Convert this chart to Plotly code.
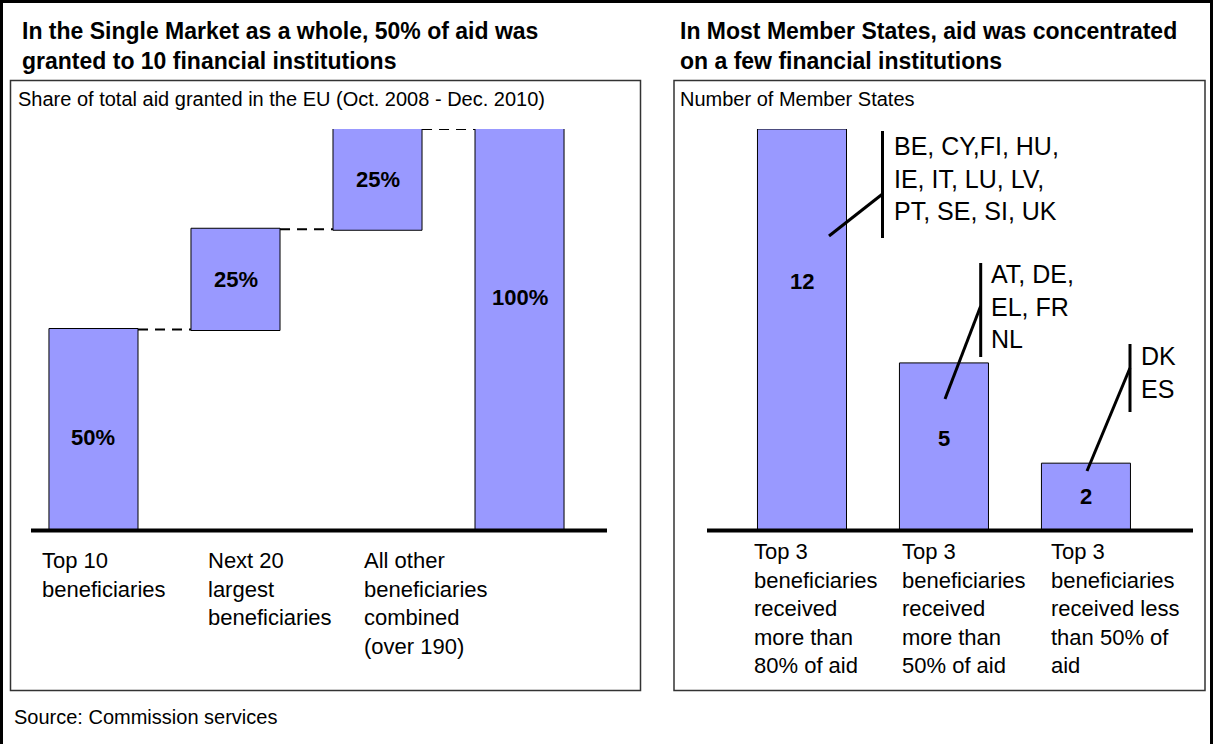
import plotly.graph_objects as go

W, H = 1214, 744
FONT = "Arial, Liberation Sans, sans-serif"
BAR_COLOR = "#9999FF"

# ---------------- data ----------------
left_title = "In the Single Market as a whole, 50% of aid was<br>granted to 10 financial institutions"
left_subtitle = "Share of total aid granted in the EU (Oct. 2008 - Dec. 2010)"
left_categories = ["Top 10<br>beneficiaries",
                   "Next 20<br>largest<br>beneficiaries",
                   "All other<br>beneficiaries<br>combined<br>(over 190)",
                   ""]
left_values = [50, 25, 25, 100]
left_measures = ["relative", "relative", "relative", "total"]
left_labels = ["50%", "25%", "25%", "100%"]

right_title = "In Most Member States, aid was concentrated<br>on a few financial institutions"
right_subtitle = "Number of Member States"
right_categories = ["Top 3<br>beneficiaries<br>received<br>more than<br>80% of aid",
                    "Top 3<br>beneficiaries<br>received<br>more than<br>50% of aid",
                    "Top 3<br>beneficiaries<br>received less<br>than 50% of<br>aid"]
right_values = [12, 5, 2]
right_countries = ["BE, CY,FI, HU,<br>IE, IT, LU, LV,<br>PT, SE, SI, UK",
                   "AT, DE,<br>EL, FR<br>NL",
                   "DK<br>ES"]
source_text = "Source: Commission services"

# ---------------- style / layout constants ----------------
def px(x):
    return x / W

def py(y):
    return 1 - y / H

Y_BASE, Y_TOP = 530, 129
left_label_frac = [0.46, 0.5, 0.5, 0.58]
right_label_frac = [0.62, 0.55, 0.5]
left_cat_px = [40, 206, 362]
right_cat_px = [752, 900, 1049]
BAR_W = 0.627

# bases for waterfall labels
bases, run = [], 0
for v, m in zip(left_values, left_measures):
    if m == "total":
        bases.append(0)
    else:
        bases.append(run)
        run += v

fig = go.Figure()

fig.add_trace(go.Waterfall(
    x=list(range(len(left_values))), y=left_values, measure=left_measures,
    width=BAR_W,
    increasing=dict(marker=dict(color=BAR_COLOR, line=dict(color="black", width=1))),
    decreasing=dict(marker=dict(color=BAR_COLOR, line=dict(color="black", width=1))),
    totals=dict(marker=dict(color=BAR_COLOR, line=dict(color="black", width=1))),
    connector=dict(mode="between", line=dict(color="black", width=2, dash="10px,7px")),
    hoverinfo="skip", textinfo="none",
    xaxis="x", yaxis="y", showlegend=False,
))

fig.add_trace(go.Bar(
    x=list(range(len(right_values))), y=right_values, width=BAR_W,
    marker=dict(color=BAR_COLOR, line=dict(color="black", width=1)),
    hoverinfo="skip", xaxis="x2", yaxis="y2", showlegend=False,
))

ydom = [py(Y_BASE), py(Y_TOP)]
axis_common = dict(showgrid=False, zeroline=False, showticklabels=False, showline=False, ticks="")
fig.update_layout(
    width=W, height=H, autosize=False,
    margin=dict(l=0, r=0, t=0, b=0),
    paper_bgcolor="white", plot_bgcolor="rgba(0,0,0,0)",
    font=dict(family=FONT, color="black"),
    xaxis=dict(domain=[px(31), px(607)], range=[-0.44, 3.616], **axis_common),
    yaxis=dict(domain=ydom, range=[0, 100], **axis_common),
    xaxis2=dict(domain=[px(707), px(1193)], range=[-0.669, 2.754], anchor="y2", **axis_common),
    yaxis2=dict(domain=ydom, range=[0, 12], anchor="x2", **axis_common),
)

shapes = []
# outer border
shapes.append(dict(type="rect", xref="paper", yref="paper", x0=px(1.5), x1=px(1211.5),
                   y0=py(1.5), y1=py(760), line=dict(color="black", width=3), layer="above"))
# panel boxes
for x0, x1 in [(10.5, 640.5), (674, 1205)]:
    shapes.append(dict(type="rect", xref="paper", yref="paper", x0=px(x0), x1=px(x1),
                       y0=py(80.5), y1=py(690.5), line=dict(color="#333333", width=1.5)))
# baselines
for x0, x1 in [(31, 607), (707, 1193)]:
    shapes.append(dict(type="line", xref="paper", yref="paper", x0=px(x0), x1=px(x1),
                       y0=py(530.5), y1=py(530.5), line=dict(color="black", width=4)))
# callout lines (right panel)
callouts = [
    ((829, 236), (882.5, 194), 882.5, 131, 238),
    ((945, 399), (980.7, 306), 980.7, 263, 357),
    ((1087, 471), (1130, 368), 1130, 344, 412),
]
for (a, b, vx, vy0, vy1) in callouts:
    shapes.append(dict(type="line", xref="paper", yref="paper", x0=px(a[0]), y0=py(a[1]),
                       x1=px(b[0]), y1=py(b[1]), line=dict(color="black", width=3)))
    shapes.append(dict(type="line", xref="paper", yref="paper", x0=px(vx), y0=py(vy0),
                       x1=px(vx), y1=py(vy1), line=dict(color="black", width=3)))
fig.update_layout(shapes=shapes)

ann = []
def text(x, y, s, size, bold=False, xanchor="left", yanchor="middle", xref="paper", yref="paper"):
    ann.append(dict(x=x, y=y, xref=xref, yref=yref, text=f"<b>{s}</b>" if bold else s,
                    showarrow=False, xanchor=xanchor, yanchor=yanchor, align="left",
                    font=dict(family=FONT, size=size, color="black")))

# titles
text(px(20), py(46), left_title, 23, bold=True)
text(px(678), py(46), right_title, 23, bold=True)
text(px(16), py(99), left_subtitle, 20)
text(px(678), py(99), right_subtitle, 20)
text(px(12), py(717), source_text, 20)

# bar value labels
for i, (v, b, lab) in enumerate(zip(left_values, bases, left_labels)):
    text(i, b + v * left_label_frac[i], lab, 22, bold=True, xanchor="center", xref="x", yref="y")
for i, v in enumerate(right_values):
    text(i, v * right_label_frac[i], str(v), 22, bold=True, xanchor="center", xref="x2", yref="y2")

# category labels
for xp, cat in zip(left_cat_px, left_categories):
    if cat:
        text(px(xp), py(546), cat, 22, yanchor="top")
for xp, cat in zip(right_cat_px, right_categories):
    text(px(xp), py(537), cat, 22, yanchor="top")

# country lists
for (xp, yc), s in zip([(892, 178.5), (989, 306.5), (1139, 372)], right_countries):
    text(px(xp), py(yc), s, 25)

fig.update_layout(annotations=ann)

fig.write_html("out.html", config={"displayModeBar": False},
               post_script="document.body.style.margin='0px';document.body.style.overflow='hidden';")
